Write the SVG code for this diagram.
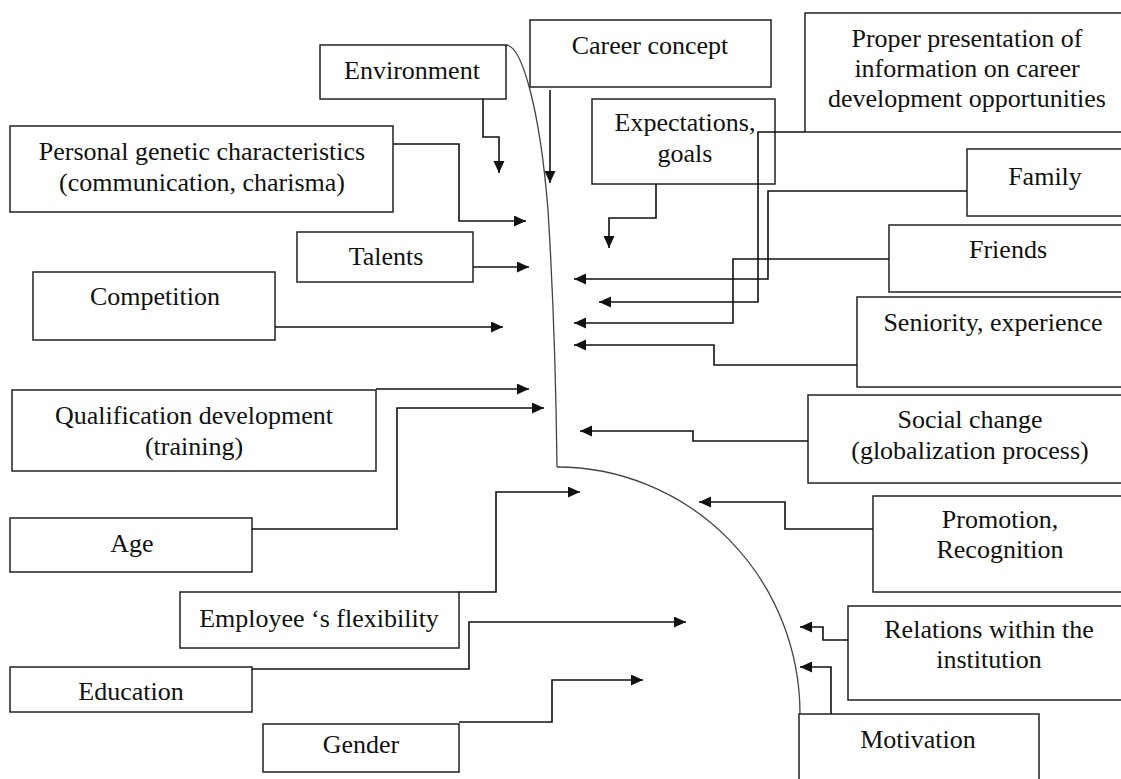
<svg xmlns="http://www.w3.org/2000/svg" width="1121" height="779" viewBox="0 0 1121 779">
<style>
.box{fill:#fff;stroke:#222;stroke-width:1.5}
.lbl{font-family:'Liberation Serif','Times New Roman',Times,serif;font-size:26px;fill:#111;text-anchor:middle}
.conn{fill:none;stroke:#111;stroke-width:1.6;marker-end:url(#ah)}
.curve{fill:none;stroke:#444;stroke-width:1.3}
</style>
<defs>
<marker id="ah" markerUnits="userSpaceOnUse" markerWidth="13" markerHeight="12" refX="12" refY="5.5" orient="auto">
<path d="M0,0 L12,5.5 L0,11 z" fill="#111"/>
</marker>
</defs>
<rect width="1121" height="779" fill="#fff"/>

<g id="curves">
<path class="curve" d="M506,45 C522,45 540,110 548,210 C553,290 556,380 557,467"/>
<path class="curve" d="M557,467 A243,247 0 0 1 800,714"/>
</g>

<g font-family="Liberation Serif, Times New Roman, serif">
<g id="n-environment"><rect class="box" x="320" y="45" width="186" height="54"/><text class="lbl" x="412" y="79">Environment</text></g>
<g id="n-career"><rect class="box" x="530" y="20" width="241" height="67"/><text class="lbl" x="650" y="54">Career concept</text></g>
<g id="n-proper"><rect class="box" x="805" y="13" width="330" height="119"/><text class="lbl" x="967" y="47">Proper presentation of</text><text class="lbl" x="967" y="77">information on career</text><text class="lbl" x="967" y="107">development opportunities</text></g>
<g id="n-expect"><rect class="box" x="592" y="99" width="183" height="85"/><text class="lbl" x="685" y="131">Expectations,</text><text class="lbl" x="685" y="162">goals</text></g>
<g id="n-personal"><rect class="box" x="10" y="126" width="383" height="86"/><text class="lbl" x="202" y="160">Personal genetic characteristics</text><text class="lbl" x="202" y="191">(communication, charisma)</text></g>
<g id="n-family"><rect class="box" x="967" y="149" width="170" height="67"/><text class="lbl" x="1045" y="185">Family</text></g>
<g id="n-friends"><rect class="box" x="889" y="225" width="250" height="67"/><text class="lbl" x="1008" y="258">Friends</text></g>
<g id="n-talents"><rect class="box" x="297" y="232" width="176" height="50"/><text class="lbl" x="386" y="265">Talents</text></g>
<g id="n-competition"><rect class="box" x="33" y="272" width="242" height="68"/><text class="lbl" x="155" y="305">Competition</text></g>
<g id="n-seniority"><rect class="box" x="857" y="297" width="280" height="90"/><text class="lbl" x="993" y="331">Seniority, experience</text></g>
<g id="n-qualification"><rect class="box" x="12" y="390" width="364" height="81"/><text class="lbl" x="194" y="424">Qualification development</text><text class="lbl" x="194" y="455">(training)</text></g>
<g id="n-social"><rect class="box" x="808" y="395" width="330" height="88"/><text class="lbl" x="970" y="428">Social change</text><text class="lbl" x="970" y="459">(globalization process)</text></g>
<g id="n-age"><rect class="box" x="10" y="518" width="242" height="54"/><text class="lbl" x="132" y="552">Age</text></g>
<g id="n-promotion"><rect class="box" x="873" y="496" width="265" height="96"/><text class="lbl" x="1000" y="528">Promotion,</text><text class="lbl" x="1000" y="558">Recognition</text></g>
<g id="n-flexibility"><rect class="box" x="180" y="592" width="279" height="56"/><text class="lbl" x="319" y="627">Employee ‘s flexibility</text></g>
<g id="n-relations"><rect class="box" x="848" y="606" width="290" height="94"/><text class="lbl" x="989" y="638">Relations within the</text><text class="lbl" x="989" y="668">institution</text></g>
<g id="n-education"><rect class="box" x="10" y="667" width="242" height="45"/><text class="lbl" x="131" y="700">Education</text></g>
<g id="n-gender"><rect class="box" x="263" y="724" width="196" height="48"/><text class="lbl" x="361" y="753">Gender</text></g>
<g id="n-motivation"><rect class="box" x="799" y="714" width="240" height="80"/><text class="lbl" x="918" y="748">Motivation</text></g>
</g>

<g id="connectors">
<path class="conn" d="M483,99 V137 H499 V173"/>
<path class="conn" d="M550,90 V183"/>
<path class="conn" d="M656,184 V218 H609 V248"/>
<path class="conn" d="M393,144 H459 V221 H526"/>
<path class="conn" d="M473,267 H529"/>
<path class="conn" d="M275,327 H503"/>
<path class="conn" d="M376,389 H529"/>
<path class="conn" d="M252,529 H397 V408 H544"/>
<path class="conn" d="M459,592 H496 V492 H580"/>
<path class="conn" d="M252,669 H469 V622 H686"/>
<path class="conn" d="M459,722 H552 V680 H643"/>
<path class="conn" d="M967,191 H768 V279 H574"/>
<path class="conn" d="M805,132 H758 V302 H599"/>
<path class="conn" d="M889,259 H733 V323 H574"/>
<path class="conn" d="M857,365 H714 V345 H574"/>
<path class="conn" d="M808,441 H693 V431 H580"/>
<path class="conn" d="M873,529 H785 V502 H699"/>
<path class="conn" d="M848,640 H823 V627 H800"/>
<path class="conn" d="M831,714 V667 H800"/>
</g>
</svg>
